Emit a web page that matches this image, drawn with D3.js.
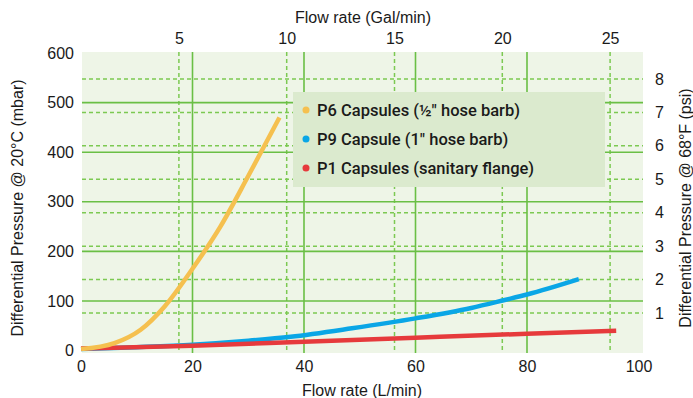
<!DOCTYPE html>
<html>
<head>
<meta charset="utf-8">
<script src="https://cdn.jsdelivr.net/npm/d3@7"></script>
<style>
  body { margin: 0; background: #fff; }
  text { font-family: "Liberation Sans", Arial, Helvetica, sans-serif; fill: #1a1a1a; }
</style>
</head>
<body>
<script>
// data (flow in L/min, pressure in mbar)
var p6Flow = [0, 6, 10.7, 15, 20, 25, 30, 35.6];
var p6Drop = [3, 15, 42, 89, 165, 250, 352, 470];

var p9Flow = [0, 10, 20, 30, 37.6, 48.6, 60, 70, 76, 80, 89.3];
var p9Drop = [3, 7, 12, 20, 28, 45, 65, 86, 102, 113, 144];

var p1Flow = [0, 20, 40, 60, 80, 96];
var p1Drop = [4, 10, 18, 26, 34, 40];

var seriesNames = ["P6 Capsules (\u00bd\" hose barb)", "P9 Capsule (1\" hose barb)", "P1 Capsules (sanitary flange)"];
var seriesColors = ["#f5c04f", "#0aa6e6", "#e63a3c"];

var litreTicks = [0, 20, 40, 60, 80, 100];
var galTicks = [5, 10, 15, 20, 25];
var mbarTicks = [0, 100, 200, 300, 400, 500, 600];
var psiTicks = [1, 2, 3, 4, 5, 6, 7, 8];

// SVG area
var svgWidth = 693;
var svgHeight = 398;

var chartMargin = { top: 52, right: 50, bottom: 45, left: 81 };
var chartWidth = svgWidth - chartMargin.left - chartMargin.right;
var chartHeight = svgHeight - chartMargin.top - chartMargin.bottom;

var svg = d3.select("body")
  .append("svg")
  .attr("width", svgWidth)
  .attr("height", svgHeight);

var chartGroup = svg.append("g")
  .attr("transform", `translate(${chartMargin.left}, ${chartMargin.top})`);

// scales
var xScale = d3.scaleLinear().domain([0, 100]).range([0, 557.5]);
var xGalScale = d3.scaleLinear().domain([5, 25]).range([97.9, 529.1]);
var yScale = d3.scaleLinear().domain([0, 600]).range([298.6, 1]);
var yPsiScale = d3.scaleLinear().domain([0, 8]).range([294.4, 27]);

// plot background
chartGroup.append("rect")
  .attr("x", 1)
  .attr("y", 0)
  .attr("width", chartWidth - 1)
  .attr("height", chartHeight)
  .attr("fill", "#eef5e7");

// dashed grid (Gal/min and psi)
chartGroup.selectAll(".vdash")
  .data(galTicks)
  .enter()
  .append("line")
  .attr("x1", d => xGalScale(d))
  .attr("x2", d => xGalScale(d))
  .attr("y1", 0)
  .attr("y2", chartHeight)
  .attr("stroke", "#7cc952")
  .attr("stroke-width", 1.5)
  .attr("stroke-dasharray", "4,3");

chartGroup.selectAll(".hdash")
  .data(psiTicks)
  .enter()
  .append("line")
  .attr("x1", 1)
  .attr("x2", chartWidth)
  .attr("y1", d => yPsiScale(d))
  .attr("y2", d => yPsiScale(d))
  .attr("stroke", "#7cc952")
  .attr("stroke-width", 1.5)
  .attr("stroke-dasharray", "4,3");

// solid grid (L/min and mbar)
chartGroup.selectAll(".vsolid")
  .data(litreTicks.slice(1, 5))
  .enter()
  .append("line")
  .attr("x1", d => xScale(d))
  .attr("x2", d => xScale(d))
  .attr("y1", 0)
  .attr("y2", chartHeight)
  .attr("stroke", "#6abf45")
  .attr("stroke-width", 1.6);

chartGroup.selectAll(".hsolid")
  .data(mbarTicks.slice(1, 6))
  .enter()
  .append("line")
  .attr("x1", 1)
  .attr("x2", chartWidth)
  .attr("y1", d => yScale(d))
  .attr("y2", d => yScale(d))
  .attr("stroke", "#6abf45")
  .attr("stroke-width", 1.6);

// axes (labels only)
var bottomAxis = d3.axisBottom(xScale).tickValues(litreTicks).tickSize(0).tickPadding(8);
var topAxis = d3.axisTop(xGalScale).tickValues(galTicks).tickSize(0).tickPadding(8);
var leftAxis = d3.axisLeft(yScale).tickValues(mbarTicks).tickSize(0).tickPadding(7);
var rightAxis = d3.axisRight(yPsiScale).tickValues(psiTicks).tickSize(0).tickPadding(12);

chartGroup.append("g").attr("transform", `translate(0, ${chartHeight})`).call(bottomAxis);
chartGroup.append("g").attr("transform", "translate(0, 0)").call(topAxis);
chartGroup.append("g").call(leftAxis);
chartGroup.append("g").attr("transform", `translate(${chartWidth}, 0)`).call(rightAxis);

chartGroup.selectAll(".domain").remove();
chartGroup.selectAll(".tick text")
  .style("font-size", "16px")
  .style("font-family", "'Liberation Sans', Arial, sans-serif")
  .attr("fill", "#1a1a1a");

// curves
var lineGen = d3.line()
  .x(d => xScale(d[0]))
  .y(d => yScale(d[1]))
  .curve(d3.curveMonotoneX);

var curves = [
  d3.zip(p9Flow, p9Drop),
  d3.zip(p1Flow, p1Drop),
  d3.zip(p6Flow, p6Drop)
];
var curveColors = [seriesColors[1], seriesColors[2], seriesColors[0]];

chartGroup.selectAll(".curve")
  .data(curves)
  .enter()
  .append("path")
  .attr("d", lineGen)
  .attr("fill", "none")
  .attr("stroke", (d, i) => curveColors[i])
  .attr("stroke-width", 4.5)
  .attr("stroke-linecap", "butt");

// legend
var legend = chartGroup.append("g")
  .attr("transform", "translate(212, 40)");

legend.append("rect")
  .attr("width", 312)
  .attr("height", 95)
  .attr("fill", "#dbeace");

var legendItem = legend.selectAll(".item")
  .data(seriesNames)
  .enter()
  .append("g")
  .attr("transform", (d, i) => `translate(0, ${18 + i * 29})`);

legendItem.append("circle")
  .attr("cx", 13)
  .attr("cy", 0)
  .attr("r", 3.5)
  .attr("fill", (d, i) => seriesColors[i]);

legendItem.append("text")
  .attr("x", 24)
  .attr("y", 0)
  .attr("dy", "0.35em")
  .style("font-family", "Roboto, 'Liberation Sans', Arial, sans-serif")
  .style("font-weight", 500)
  .style("font-size", "16.5px")
  .attr("fill", "#111")
  .text(d => d);

// axis titles
svg.append("text")
  .attr("x", 362)
  .attr("y", 396)
  .style("text-anchor", "middle")
  .style("font-size", "16px")
  .text("Flow rate (L/min)");

svg.append("text")
  .attr("x", 363)
  .attr("y", 23)
  .style("text-anchor", "middle")
  .style("font-size", "16px")
  .text("Flow rate (Gal/min)");

svg.append("text")
  .attr("transform", "rotate(-90)")
  .attr("x", -208)
  .attr("y", 23)
  .style("text-anchor", "middle")
  .style("font-size", "16px")
  .text("Differential Pressure @ 20\u00b0C (mbar)");

svg.append("text")
  .attr("transform", "rotate(-90)")
  .attr("x", -208)
  .attr("y", 691)
  .style("text-anchor", "middle")
  .style("font-size", "16px")
  .text("Differential Pressure @ 68\u00b0F (psi)");
</script>
</body>
</html>
